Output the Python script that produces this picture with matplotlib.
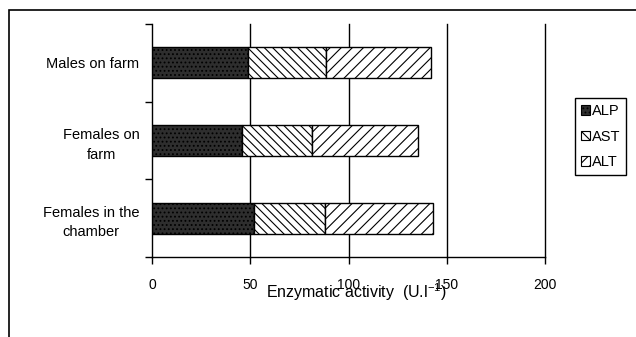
import matplotlib
matplotlib.use("Agg")
import matplotlib.pyplot as plt
from matplotlib.patches import Rectangle, Patch
import numpy as np

plt.rcParams['font.family'] = ['Liberation Sans', 'DejaVu Sans']
plt.rcParams['mathtext.default'] = 'regular'
plt.rcParams['hatch.linewidth'] = 0.8

categories = ["Males on farm", "Females on\nfarm", "Females in the\nchamber"]
series_names = ["ALP", "AST", "ALT"]
alp = [49, 46, 52]
ast = [39.5, 35.5, 36]
alt = [53.5, 54, 55]
xticks = [0, 50, 100, 150, 200]

fig = plt.figure(figsize=(6.36, 3.37), dpi=100)
ax = fig.add_axes([152/636, 1-257/337, (545-152)/636, (257-24)/337])

y = np.arange(len(categories))
styles = [dict(facecolor='#2e2e2e', hatch='....'),
          dict(facecolor='white', hatch='\\\\\\\\'),
          dict(facecolor='white', hatch='///')]
left = np.zeros(len(categories))
handles = []
for name, vals, st in zip(series_names, [alp, ast, alt], styles):
    vals = np.array(vals, dtype=float)
    ax.barh(y, vals, left=left, height=0.4, edgecolor='black', linewidth=1.0, zorder=3, **st)
    left += vals
    handles.append(Patch(edgecolor='black', linewidth=0.8, label=name, **st))

ax.set_xlim(0, 200)
ax.set_ylim(-0.5, 2.5)
ax.invert_yaxis()
ax.set_xticks(xticks)
ax.set_xticklabels([str(t) for t in xticks])
ax.set_yticks(y)
ax.set_yticklabels(categories, multialignment='center', linespacing=1.5)
ax.set_yticks([-0.5, 0.5, 1.5, 2.5], minor=True)
ax.tick_params(axis='y', which='major', length=0, pad=9, labelsize=10.5)
ax.tick_params(axis='y', which='minor', length=5, width=1, direction='out')
ax.tick_params(axis='x', length=5, width=1, direction='out', pad=10, labelsize=10)
for s in ['top', 'right']:
    ax.spines[s].set_visible(False)
for s in ['left', 'bottom']:
    ax.spines[s].set_linewidth(1.0)
for t in xticks[1:]:
    ax.axvline(t, color='black', linewidth=1.0, zorder=0, clip_on=False)

ax.set_xlabel("Enzymatic activity  (U.l$^{-1}$)", fontsize=11.5)
ax.xaxis.set_label_coords((356-152)/(545-152), -(292-257)/(257-24))
ax.xaxis.label.set_va('center')

fig.legend(handles=handles, loc='upper left', bbox_to_anchor=(575/636, 1-98/337),
           frameon=True, fancybox=False, edgecolor='black', framealpha=1,
           fontsize=10.5, handlelength=0.65, handleheight=0.65, handletextpad=0.1,
           borderpad=0.4, labelspacing=0.8, borderaxespad=0)

fig.patches.append(Rectangle((9/636, -0.1), 1.2, 1 - 10/337 + 0.1, transform=fig.transFigure,
                             fill=False, edgecolor='black', linewidth=1.2, figure=fig))

fig.savefig("out.png", dpi=100)
